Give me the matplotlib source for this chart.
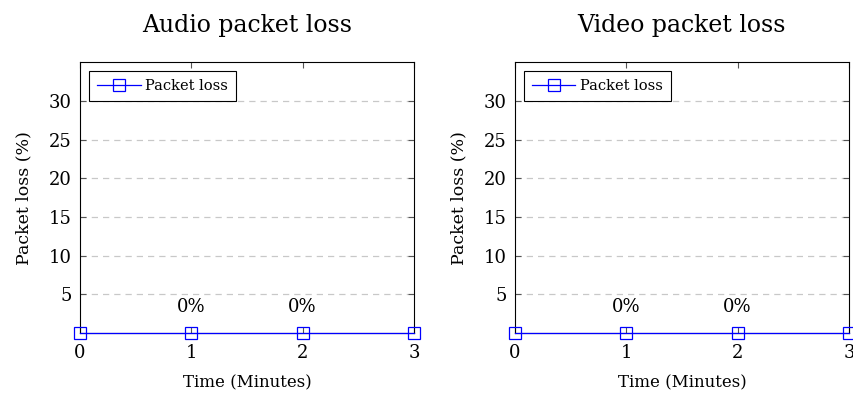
import matplotlib
matplotlib.use("Agg")
import matplotlib.pyplot as plt

plt.rcParams['font.family'] = ['DejaVu Serif']

minutes = [0, 1, 2, 3]
audio_loss = [0, 0, 0, 0]
video_loss = [0, 0, 0, 0]
labelled_minutes = [1, 2]
y_ticks = [5, 10, 15, 20, 25, 30]

panels = [
    ("Audio packet loss", audio_loss, 0.0937),
    ("Video packet loss", video_loss, 0.603),
]

fig = plt.figure(figsize=(8.54, 3.98), dpi=100)

for title, loss, left in panels:
    ax = fig.add_axes([left, 0.163, 0.391, 0.681])
    ax.plot(minutes, loss, color='blue', lw=0.9, marker='s', ms=9,
            mfc='none', mec='blue', mew=0.9, clip_on=False, zorder=5,
            label='Packet loss')
    for m in labelled_minutes:
        ax.annotate(f"{loss[m]:g}%", (m, loss[m]), xytext=(0, 12),
                    textcoords='offset points', ha='center', va='bottom',
                    fontsize=13)
    ax.set_xlim(0, 3)
    ax.set_ylim(0, 35)
    ax.set_xticks(minutes)
    ax.set_yticks(y_ticks)
    ax.tick_params(direction='in', top=True, right=True, length=4,
                   width=0.8, color='#555555', labelsize=13)
    ax.tick_params(axis='x', pad=8)
    ax.tick_params(axis='y', pad=6)
    ax.yaxis.grid(True, ls=(0, (5, 4)), color='#c8c8c8', lw=0.9)
    ax.set_axisbelow(True)
    for s in ax.spines.values():
        s.set_linewidth(0.8)
    ax.set_title(title, fontsize=17, pad=22)
    ax.set_xlabel("Time (Minutes)", fontsize=12, labelpad=9)
    ax.set_ylabel("Packet loss (%)", fontsize=12.5, labelpad=12)
    leg = ax.legend(loc='upper left', fontsize=10.5, fancybox=False,
                    edgecolor='black', framealpha=1, handlelength=3.0,
                    handletextpad=0.3, borderpad=0.55, borderaxespad=0.6)
    leg.get_frame().set_linewidth(0.8)

fig.savefig("out.png", dpi=100)
